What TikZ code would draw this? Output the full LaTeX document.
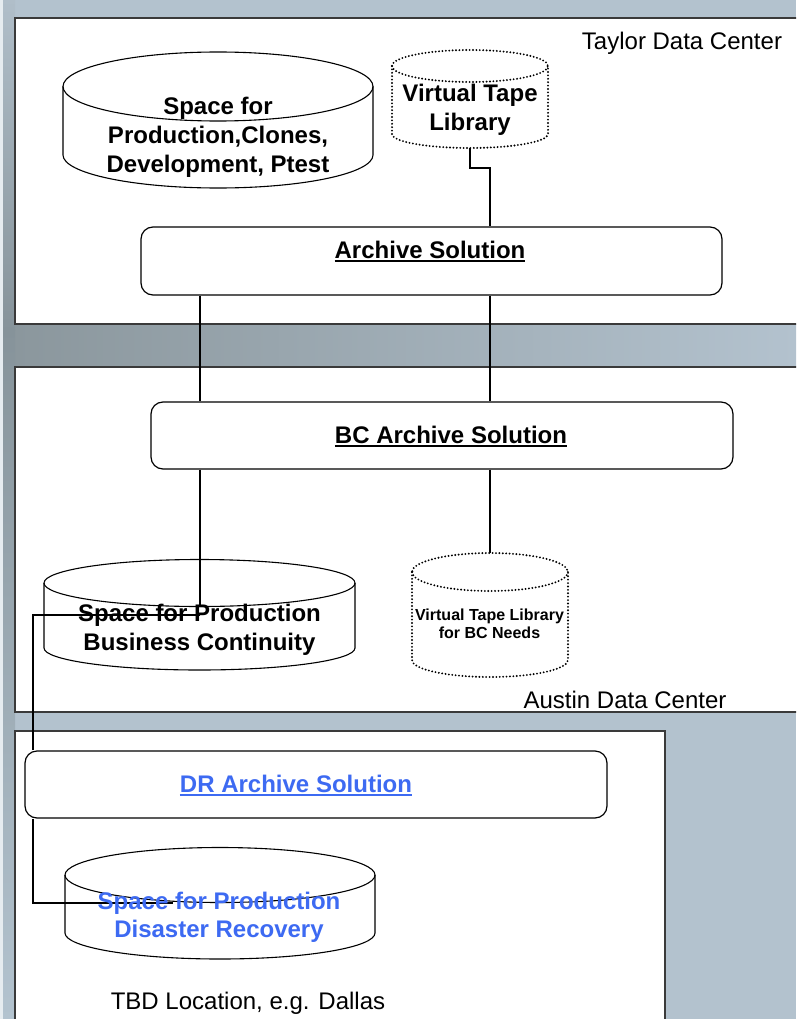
\documentclass[tikz,border=0pt]{standalone}
\usepackage{fontspec}
\setmainfont{Liberation Sans}
\definecolor{bgc}{HTML}{B3C2CE}
\definecolor{gapL}{HTML}{8B979D}
\definecolor{gapM}{HTML}{8E9BA2}
\definecolor{stripT}{HTML}{B0BEC9}
\definecolor{stripM}{HTML}{86939A}
\definecolor{stripB}{HTML}{B3C3CF}
\definecolor{stripW}{HTML}{E6ECF0}
\definecolor{panelc}{HTML}{3A3A3A}
\definecolor{drblue}{HTML}{3D6AF2}
\newcommand\myul[1]{\setbox0=\hbox{#1}\rlap{\rule[-4pt]{\wd0}{1.8pt}}\box0}
% name, cx, y top-ellipse centre, y bottom-ellipse centre, rx, ry top, ry bottom, style
\newcommand\mycyl[8]{%
  \path[#8] (#2-#5,#3) -- (#2-#5,#4)
    arc[start angle=180,end angle=0,x radius=#5,y radius=#7]
    -- (#2+#5,#3)
    arc[start angle=0,end angle=-180,x radius=#5,y radius=#6] -- cycle;
  \path[#8,fill=none] (#2-#5,#3) arc[start angle=180,end angle=0,x radius=#5,y radius=#6];
  \coordinate (#1-top) at (#2,#3-#6);
  \coordinate (#1-front) at (#2,#3+#6);
  \coordinate (#1-bot) at (#2,#4+#7);
}
\tikzset{
  panel/.style={fill=white, draw=panelc, line width=1.4pt},
  box/.style={draw=black, fill=white, rounded corners=12pt, line width=1.2pt, inner sep=0pt},
  conn/.style={draw=black, line width=1.1pt},
  cylsolid/.style={fill=white, draw=black, line width=1.1pt},
  cyldot/.style={fill=white, draw=black, line width=2.1pt, line cap=round, dash pattern=on 0pt off 3.4pt},
  btxt/.style={font=\fontsize{24}{29}\selectfont\bfseries, inner sep=0pt, align=center},
  ltxt/.style={font=\fontsize{24}{29}\selectfont, inner sep=0pt, anchor=base},
}
\begin{document}
\begin{tikzpicture}[x=1pt,y=-1pt]
\useasboundingbox (0,0) rectangle (796,1019);
\clip (0,0) rectangle (796,1019);
% background
\fill[bgc] (0,0) rectangle (796,1019);
\shade[left color=gapL, middle color=gapM, right color=bgc] (15,324) rectangle (796,367);
\shade[top color=stripT, bottom color=stripM] (0,0) rectangle (15,330);
\shade[top color=stripM, bottom color=stripB] (0,330) rectangle (15,1019);
\fill[stripW] (0,0) rectangle (3,1019);
% panels
\draw[panel] (15,18) rectangle (810,324);
\draw[panel] (15,367) rectangle (810,712);
\draw[panel] (15,731) rectangle (665,1030);
% boxes
\node[box, minimum width=581pt, minimum height=68pt] (arch) at (431.5,261) {};
\node[box, minimum width=582pt, minimum height=67pt] (bc) at (442,435.5) {};
\node[box, minimum width=582pt, minimum height=67pt] (dr) at (316,784.5) {};
% cylinders
\mycyl{c1}{218}{86.5}{155}{155}{34.5}{33}{cylsolid}
\mycyl{v1}{470}{66}{134}{78}{16}{14}{cyldot}
\mycyl{c2}{199.5}{583}{648}{155.5}{23.5}{22}{cylsolid}
\mycyl{v2}{490}{572}{660}{78}{19}{17}{cyldot}
\mycyl{c3}{220}{875}{933}{155}{27.5}{26}{cylsolid}
% helper coordinates
\coordinate (xL) at (200,0);
\coordinate (xR) at (490,0);
\coordinate (xD) at (33,0);
\coordinate (c2j) at (200,615);
\coordinate (c3j) at (173,903);
% connectors
\draw[conn] (v1-bot) -- ++(0,20) -| (arch.north -| xR);
\draw[conn] (arch.south -| xL) -- (bc.north -| xL);
\draw[conn] (arch.south -| xR) -- (bc.north -| xR);
\draw[conn] (bc.south -| xL) -- (c2-front -| xL);
\draw[conn] (bc.south -| xR) -- (v2-top);
\draw[conn] (c2j) -| (dr.north -| xD);
\draw[conn] (dr.south -| xD) |- (c3j);
% texts
\node[btxt] (c1t) at (218,137.75) {Space for\\Production,Clones,\\Development, Ptest};
\node[btxt] (v1t) at (470,110.25) {Virtual Tape\\Library};
\node[btxt, anchor=base] (archT) at (430,258) {\myul{Archive Solution}};
\node[btxt, anchor=base] (bcT) at (451,443) {\myul{BC Archive Solution}};
\node[btxt, font=\fontsize{24}{28.5}\selectfont\bfseries] (c2t) at (199.5,629.75) {Space for Production\\Business Continuity};
\node[btxt, font=\fontsize{16}{18}\selectfont\bfseries] (v2t) at (489.5,624.2) {Virtual Tape Library\\for BC Needs};
\node[btxt, anchor=base, text=drblue] (drT) at (296,792) {\myul{DR Archive Solution}};
\node[btxt, font=\fontsize{24}{28}\selectfont\bfseries, text=drblue] (c3t) at (219,917.75) {Space for Production\\Disaster Recovery};
\node[ltxt] (taylor) at (682,50) {Taylor Data Center};
\node[ltxt] (austin) at (625,708) {Austin Data Center};
\node[ltxt] (tbd) at (248,1009) {TBD Location, e.g. Dallas};
\end{tikzpicture}
\end{document}
